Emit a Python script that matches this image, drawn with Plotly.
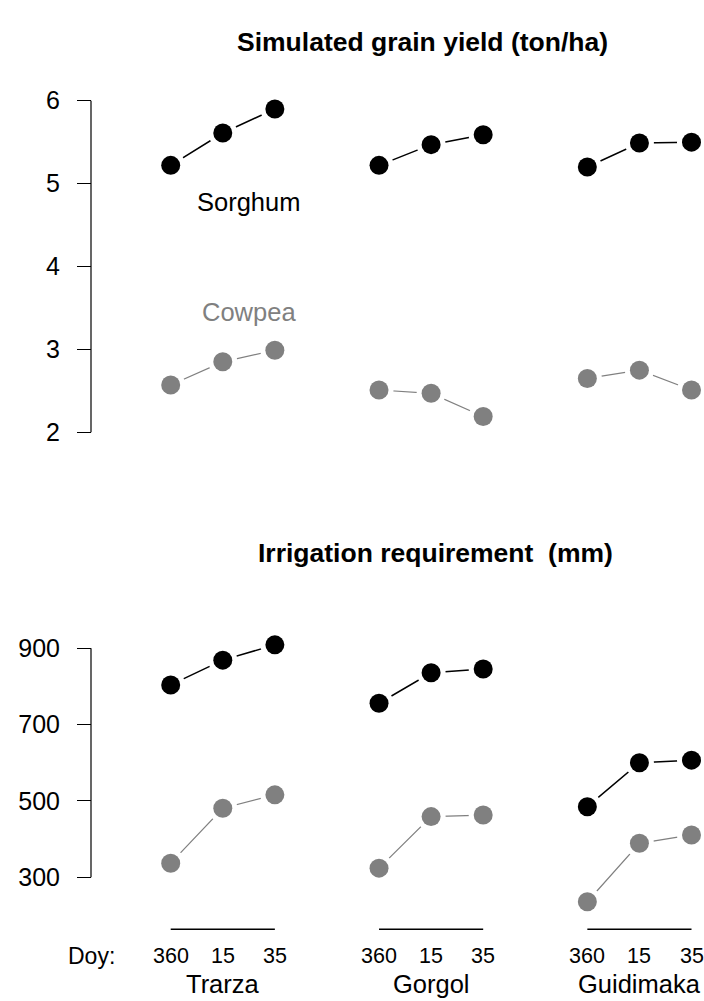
import plotly.graph_objects as go

# ---------------- data ----------------
regions = ["Trarza", "Gorgol", "Guidimaka"]
doy_labels = ["360", "15", "35"]
x_pos = [1, 2, 3, 5, 6, 7, 9, 10, 11]

yield_sorghum = [5.22, 5.61, 5.90, 5.22, 5.47, 5.59, 5.20, 5.49, 5.50]
yield_cowpea = [2.57, 2.85, 2.99, 2.51, 2.47, 2.19, 2.65, 2.75, 2.51]

irr_sorghum = [804, 869, 909, 756, 836, 846, 485, 600, 607]
irr_cowpea = [337, 481, 516, 324, 459, 463, 236, 389, 411]

yield_ticks = [2, 3, 4, 5, 6]
irr_ticks = [300, 500, 700, 900]

# ---------------- layout helpers ----------------
W, H = 704, 1001
FONT = "Liberation Sans, Arial, sans-serif"
BLACK = "#000000"
GRAY = "#808080"


def px_x(p):
    return p / W


def px_y(p):
    return 1 - p / H


# x scale: x=1 at px 170.7, 52.08 px per unit, domain = full figure width
x0_px, x_unit = 170.7, 52.08
x_range = [1 - x0_px / x_unit, 1 + (W - x0_px) / x_unit]


def y_range(dom_top, dom_bot, v_hi, p_hi, v_lo, p_lo):
    scale = (p_lo - p_hi) / (v_hi - v_lo)
    return [v_lo - (dom_bot - p_lo) / scale, v_hi + (p_hi - dom_top) / scale]


top_dom = (80, 460)
bot_dom = (600, 940)
top_range = y_range(*top_dom, 6, 100.7, 2, 432.3)
bot_range = y_range(*bot_dom, 900, 648.3, 300, 877.3)


def with_gaps(vals):
    xs, ys = [], []
    for g in range(3):
        xs += x_pos[g * 3:g * 3 + 3] + [None]
        ys += vals[g * 3:g * 3 + 3] + [None]
    return xs, ys


fig = go.Figure()


def add_series(vals, color, lw, xa, ya):
    xs, ys = with_gaps(vals)
    fig.add_trace(go.Scatter(x=xs, y=ys, mode="lines", xaxis=xa, yaxis=ya,
                             line=dict(color=color, width=lw),
                             showlegend=False, hoverinfo="skip"))
    fig.add_trace(go.Scatter(x=x_pos, y=vals, mode="markers", xaxis=xa, yaxis=ya,
                             marker=dict(color="white", size=29, line=dict(width=0)),
                             cliponaxis=False, showlegend=False, hoverinfo="skip"))
    fig.add_trace(go.Scatter(x=x_pos, y=vals, mode="markers", xaxis=xa, yaxis=ya,
                             marker=dict(color=color, size=19, line=dict(width=0)),
                             cliponaxis=False, showlegend=False))


add_series(yield_sorghum, BLACK, 1.5, "x", "y")
add_series(yield_cowpea, GRAY, 1.2, "x", "y")
add_series(irr_sorghum, BLACK, 1.5, "x2", "y2")
add_series(irr_cowpea, GRAY, 1.2, "x2", "y2")

axis_x = px_x(91)
yaxis_common = dict(anchor="free", position=axis_x, showline=False, showgrid=False,
                    zeroline=False, ticks="outside", ticklen=14, tickwidth=1.2,
                    tickcolor="black", ticklabelstandoff=12,
                    tickfont=dict(family=FONT, size=25, color="black"))

fig.update_layout(
    width=W, height=H,
    margin=dict(l=0, r=0, t=0, b=0),
    paper_bgcolor="white", plot_bgcolor="white",
    xaxis=dict(domain=[0, 1], range=x_range, visible=False, anchor="y"),
    xaxis2=dict(domain=[0, 1], range=x_range, visible=False, anchor="y2"),
    yaxis=dict(domain=[px_y(top_dom[1]), px_y(top_dom[0])], range=top_range,
               tickvals=yield_ticks, ticktext=[str(t) for t in yield_ticks],
               **yaxis_common),
    yaxis2=dict(domain=[px_y(bot_dom[1]), px_y(bot_dom[0])], range=bot_range,
                tickvals=irr_ticks, ticktext=[str(t) for t in irr_ticks],
                **yaxis_common),
    showlegend=False,
)

# axis spines spanning only the tick range (R style)
fig.add_shape(type="line", xref="paper", yref="y", x0=axis_x, x1=axis_x,
              y0=min(yield_ticks), y1=max(yield_ticks), line=dict(color="black", width=1.2))
fig.add_shape(type="line", xref="paper", yref="y2", x0=axis_x, x1=axis_x,
              y0=min(irr_ticks), y1=max(irr_ticks), line=dict(color="black", width=1.2))


def label(text, x, y, size, color="black", xref="paper", yref="paper"):
    fig.add_annotation(text=text, xref=xref, yref=yref, x=x, y=y, showarrow=False,
                       xanchor="center", yanchor="middle",
                       font=dict(family=FONT, size=size, color=color))


# titles
label("<b>Simulated grain yield (ton/ha)</b>", px_x(422), px_y(42), 26.5)
label("<b>Irrigation requirement  (mm)</b>", px_x(436), px_y(553), 26.5)

# series labels
label("Sorghum", 2.5, 4.78, 25.5, BLACK, "x", "y")
label("Cowpea", 2.5, 3.45, 25.5, GRAY, "x", "y")

# bottom group axis: underline, doy labels, region names
label("Doy:", px_x(91.7), px_y(956), 23)
for g, reg in enumerate(regions):
    xs = x_pos[g * 3:g * 3 + 3]
    fig.add_shape(type="line", xref="x2", yref="paper", x0=xs[0], x1=xs[-1],
                  y0=px_y(929.3), y1=px_y(929.3), line=dict(color="black", width=1.5))
    for xv, lab in zip(xs, doy_labels):
        label(lab, xv, px_y(956), 21.5, "black", "x2", "paper")
    label(reg, xs[1], px_y(984), 25.5, "black", "x2", "paper")

fig.write_html(
    "out.html",
    config={"displayModeBar": False},
    post_script="document.body.style.margin='0';document.body.style.overflow='hidden';",
)
